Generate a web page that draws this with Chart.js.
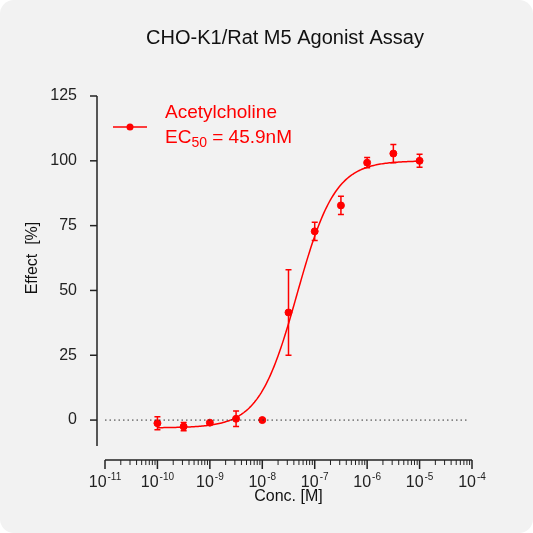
<!DOCTYPE html>
<html>
<head>
<meta charset="utf-8">
<script src="https://cdn.jsdelivr.net/npm/chart.js@4"></script>
<style>
  html, body { margin: 0; padding: 0; background: #fff; }
  #wrap { width: 533px; height: 533px; background: #f2f2f2; border-radius: 14px; overflow: hidden; }
</style>
</head>
<body>
<div id="wrap"><canvas id="c" width="533" height="533"></canvas></div>
<script>
// log10 concentration [M]
const logConc = [-10, -9.5, -9, -8.5, -8, -7.5, -7, -6.5, -6, -5.5, -5];
// mean effect [%]
const effect = [-1.2, -2.5, -1, 0.5, 0, 41.5, 72.8, 82.8, 99.3, 102.8, 100];
// error (SD)
const errSD = [2.5, 1.6, 0, 3, 0, 16.5, 3.5, 3.5, 2, 3.5, 2.5];
const yTicks = [0, 25, 50, 75, 100, 125];
const xDecades = [-11, -10, -9, -8, -7, -6, -5, -4];

// four-parameter fit
const fit = { bottom: -3, top: 100, logEC50: Math.log10(45.9e-9), hill: 1.2 };
const fitPts = [];
for (let i = 0; i <= 200; i++) {
  const x = -10 + 5 * i / 200;
  fitPts.push({ x, y: fit.bottom + (fit.top - fit.bottom) / (1 + Math.pow(10, (fit.logEC50 - x) * fit.hill)) });
}

const RED = '#ff0000';
const FONT = '"Liberation Sans", Arial, sans-serif';

const decor = {
  id: 'decor',
  afterDatasetsDraw(chart) {
    const { ctx, chartArea: a, scales: { x, y } } = chart;
    ctx.save();
    // zero line
    ctx.strokeStyle = '#333'; ctx.lineWidth = 1; ctx.setLineDash([1.5, 3]);
    ctx.beginPath(); ctx.moveTo(x.getPixelForValue(-11), y.getPixelForValue(0));
    ctx.lineTo(x.getPixelForValue(-4.05), y.getPixelForValue(0)); ctx.stroke();
    ctx.setLineDash([]);
    // error bars
    ctx.strokeStyle = RED; ctx.lineWidth = 1.5;
    logConc.forEach((lx, i) => {
      if (!errSD[i]) return;
      const px = x.getPixelForValue(lx);
      const y1 = y.getPixelForValue(effect[i] + errSD[i]);
      const y2 = y.getPixelForValue(effect[i] - errSD[i]);
      ctx.beginPath();
      ctx.moveTo(px, y1); ctx.lineTo(px, y2);
      ctx.moveTo(px - 3, y1); ctx.lineTo(px + 3, y1);
      ctx.moveTo(px - 3, y2); ctx.lineTo(px + 3, y2);
      ctx.stroke();
    });
    // y axis
    ctx.strokeStyle = '#222'; ctx.lineWidth = 1.5;
    const ax = a.left - 8;
    ctx.beginPath(); ctx.moveTo(ax, a.top); ctx.lineTo(ax, a.bottom); ctx.stroke();
    yTicks.forEach(v => {
      const py = y.getPixelForValue(v);
      ctx.beginPath(); ctx.moveTo(ax - 7, py); ctx.lineTo(ax, py); ctx.stroke();
    });
    // x axis
    const ay = a.bottom + 14;
    ctx.beginPath(); ctx.moveTo(x.getPixelForValue(-11), ay); ctx.lineTo(x.getPixelForValue(-4), ay); ctx.stroke();
    ctx.fillStyle = '#222'; ctx.textBaseline = 'middle';
    xDecades.forEach(d => {
      ctx.lineWidth = 1.5;
      const px = x.getPixelForValue(d);
      ctx.beginPath(); ctx.moveTo(px, ay); ctx.lineTo(px, ay + 9); ctx.stroke();
      // label 10^d
      ctx.font = '16px ' + FONT;
      const wb = ctx.measureText('10').width;
      ctx.font = '10px ' + FONT;
      const we = ctx.measureText(String(d)).width;
      const x0 = px - (wb + we + 1) / 2;
      ctx.textAlign = 'left';
      ctx.font = '16px ' + FONT;
      ctx.fillText('10', x0, ay + 23);
      ctx.font = '10px ' + FONT;
      ctx.fillText(String(d), x0 + wb + 1, ay + 17);
      if (d === -4) return;
      ctx.lineWidth = 1;
      for (let k = 2; k <= 9; k++) {
        const pm = x.getPixelForValue(d + Math.log10(k));
        ctx.beginPath(); ctx.moveTo(pm, ay); ctx.lineTo(pm, ay + 5); ctx.stroke();
      }
    });
    // axis titles
    ctx.fillStyle = '#111'; ctx.textAlign = 'center';
    ctx.font = '16px ' + FONT;
    ctx.fillText('Conc. [M]', (x.getPixelForValue(-11) + x.getPixelForValue(-4)) / 2, 497);
    ctx.save();
    ctx.translate(33, y.getPixelForValue(62.5));
    ctx.rotate(-Math.PI / 2);
    ctx.fillText('Effect  [%]', 0, 0);
    ctx.restore();
    // title
    ctx.font = '20px ' + FONT;
    ctx.fillText('CHO-K1/Rat M5 Agonist Assay', 285, 38);
    // legend
    ctx.strokeStyle = RED; ctx.fillStyle = RED; ctx.lineWidth = 1.5;
    ctx.beginPath(); ctx.moveTo(113, 127); ctx.lineTo(147, 127); ctx.stroke();
    ctx.beginPath(); ctx.arc(130, 127, 3.5, 0, Math.PI * 2); ctx.fill();
    ctx.textAlign = 'left'; ctx.font = '19px ' + FONT;
    ctx.fillText('Acetylcholine', 165, 113);
    ctx.fillText('EC', 165, 138);
    let w = ctx.measureText('EC').width;
    ctx.font = '14px ' + FONT;
    ctx.fillText('50', 165 + w, 143);
    w += ctx.measureText('50').width;
    ctx.font = '19px ' + FONT;
    ctx.fillText(' = 45.9nM', 165 + w, 138);
    ctx.restore();
  }
};

new Chart(document.getElementById('c'), {
  type: 'scatter',
  data: {
    datasets: [
      { data: fitPts, type: 'line', borderColor: RED, borderWidth: 1.5, pointRadius: 0, tension: 0 },
      { data: logConc.map((x, i) => ({ x, y: effect[i] })), backgroundColor: RED, borderColor: RED, pointRadius: 3.5 }
    ]
  },
  options: {
    responsive: false, animation: false,
    layout: { padding: { top: 96, right: 61, left: 0, bottom: 0 } },
    plugins: { legend: { display: false }, tooltip: { enabled: false } },
    scales: {
      x: {
        type: 'linear', min: -11, max: -4,
        afterFit: s => { s.height = 87; },
        grid: { display: false }, border: { display: false },
        ticks: { display: false }
      },
      y: {
        min: -10, max: 125,
        afterFit: s => { s.width = 105; },
        afterBuildTicks: s => { s.ticks = yTicks.map(v => ({ value: v })); },
        grid: { display: false }, border: { display: false },
        ticks: { padding: 20, color: '#222', font: { family: FONT, size: 16 } }
      }
    }
  },
  plugins: [decor]
});
</script>
</body>
</html>
